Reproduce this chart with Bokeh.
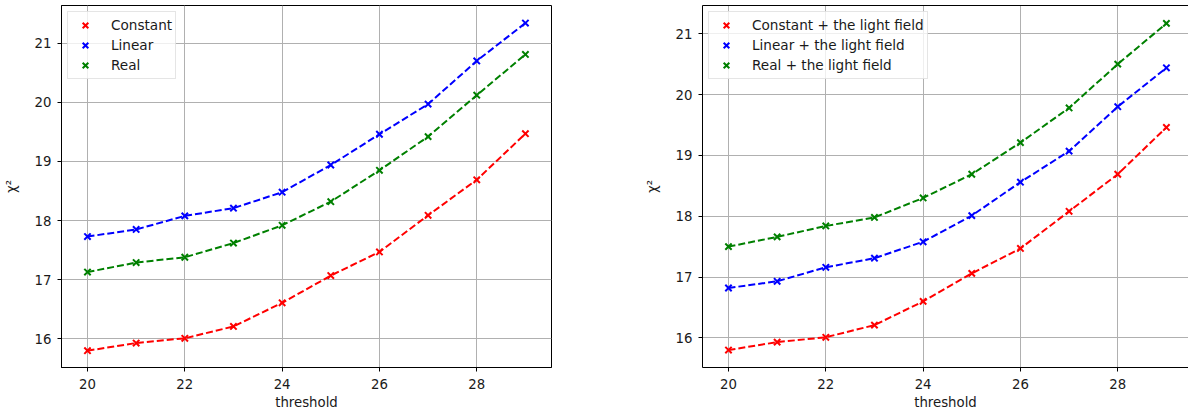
from bokeh.plotting import figure
from bokeh.models import FixedTicker, Legend, LegendItem, Range1d, LinearAxis
from bokeh.layouts import row
from bokeh.embed import file_html
from bokeh.resources import INLINE

threshold = [20, 21, 22, 23, 24, 25, 26, 27, 28, 29]

constant = [15.80, 15.93, 16.01, 16.21, 16.61, 17.07, 17.47, 18.09, 18.69, 19.47]
linear = [17.73, 17.85, 18.08, 18.21, 18.48, 18.94, 19.46, 19.97, 20.70, 21.34]
real = [17.13, 17.29, 17.38, 17.62, 17.92, 18.32, 18.85, 19.42, 20.12, 20.81]

constant_lf = [15.80, 15.93, 16.01, 16.21, 16.60, 17.06, 17.47, 18.08, 18.69, 19.46]
linear_lf = [16.82, 16.93, 17.16, 17.31, 17.58, 18.01, 18.56, 19.07, 19.80, 20.44]
real_lf = [17.50, 17.66, 17.84, 17.98, 18.30, 18.69, 19.21, 19.78, 20.50, 21.17]

labels_left = ["Constant", "Linear", "Real"]
labels_right = ["Constant + the light field", "Linear + the light field", "Real + the light field"]
colors = ["#ff0000", "#0000ff", "#008000"]

x_ticks = [20, 22, 24, 26, 28]
y_ticks = [16, 17, 18, 19, 20, 21]

FONT = "DejaVu Sans"
TXT = "#1a1a1a"


def make_plot(series, labels, width, border_left, border_right, xr, yr, outline):
    p = figure(width=width, height=412, output_backend="svg", toolbar_location=None,
               x_range=Range1d(*xr), y_range=Range1d(*yr),
               min_border_left=border_left, min_border_right=border_right,
               min_border_top=5, min_border_bottom=44)
    p.background_fill_color = "white"
    p.border_fill_color = "white"
    if outline:
        p.outline_line_color = "black"
        p.outline_line_width = 1
    else:
        p.outline_line_color = None
    for ax in (p.xaxis[0], p.yaxis[0]):
        ax.axis_line_color = "black"
        ax.major_tick_line_color = "black"
        ax.major_tick_out = 4
        ax.major_tick_in = 0
        ax.minor_tick_line_color = None
        ax.major_label_text_font = FONT
        ax.major_label_text_font_size = "13.3px"
        ax.major_label_text_color = TXT
        ax.axis_label_text_font = FONT
        ax.axis_label_text_font_size = "13.3px"
        ax.axis_label_text_font_style = "normal"
        ax.axis_label_text_color = TXT
    p.xaxis.ticker = FixedTicker(ticks=x_ticks)
    p.yaxis.ticker = FixedTicker(ticks=y_ticks)
    p.xaxis.axis_label = "threshold"
    p.yaxis.axis_label = "χ²"
    p.xaxis.major_label_standoff = 7
    p.xaxis.axis_label_standoff = 3
    p.yaxis.major_label_standoff = 6
    p.yaxis.axis_label_standoff = 13
    p.grid.grid_line_color = "#b0b0b0"
    p.grid.grid_line_width = 1

    if not outline:
        top = LinearAxis(ticker=FixedTicker(ticks=[]), major_tick_out=0, major_tick_in=0,
                         minor_tick_out=0, minor_tick_in=0, major_label_standoff=0,
                         major_label_text_font_size="0px", axis_line_color="black")
        p.add_layout(top, "above")

    items = []
    for vals, lab, col in zip(series, labels, colors):
        p.line(threshold, vals, line_color=col, line_width=2, line_dash="7 3")
        r = p.scatter(threshold, vals, marker="x", size=9, line_color=col, line_width=2)
        items.append(LegendItem(label=lab, renderers=[r]))

    leg = Legend(items=items, location="top_left", margin=6)
    leg.label_text_font = FONT
    leg.label_text_font_size = "13.6px"
    leg.label_text_color = TXT
    leg.padding = 3
    leg.spacing = 0
    leg.glyph_width = 28
    leg.glyph_height = 20
    leg.label_height = 20
    leg.label_standoff = 12
    leg.border_line_color = "#cccccc"
    leg.border_line_width = 1
    leg.background_fill_color = "white"
    leg.background_fill_alpha = 0.8
    p.add_layout(leg)
    return p


left = make_plot([constant, linear, real], labels_left, 608, 61, 57,
                 (19.466, 29.536), (15.516, 21.637), True)
right = make_plot([constant_lf, linear_lf, real_lf], labels_right, 580, 94, 0,
                  (19.466, 29.454), (15.513, 21.464), False)

layout = row(left, right)
open("out.html", "w").write(file_html(layout, INLINE))
